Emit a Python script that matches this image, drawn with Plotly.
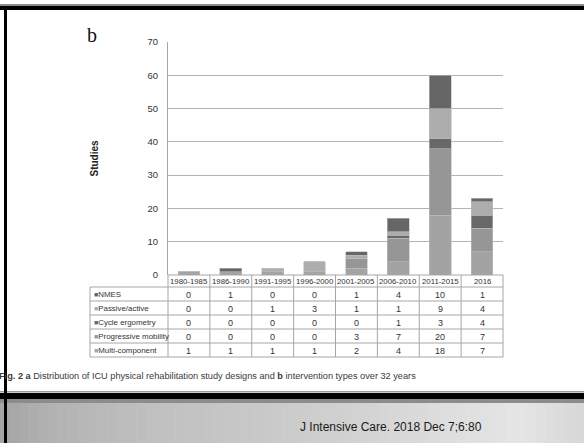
import plotly.graph_objects as go

# ---------------- data ----------------
categories = ["1980-1985", "1986-1990", "1991-1995", "1996-2000",
              "2001-2005", "2006-2010", "2011-2015", "2016"]
nmes = [0, 1, 0, 0, 1, 4, 10, 1]
passive_active = [0, 0, 1, 3, 1, 1, 9, 4]
cycle_ergometry = [0, 0, 0, 0, 0, 1, 3, 4]
progressive_mobility = [0, 0, 0, 0, 3, 7, 20, 7]
multi_component = [1, 1, 1, 1, 2, 4, 18, 7]
y_ticks = [0, 10, 20, 30, 40, 50, 60, 70]

# table rows (top to bottom as in picture)
row_names = ["NMES", "Passive/active", "Cycle ergometry", "Progressive mobility", "Multi-component"]
row_values = [nmes, passive_active, cycle_ergometry, progressive_mobility, multi_component]
row_colors = ["#666666", "#adadad", "#686868", "#969696", "#a3a3a3"]

caption = ("<b>Fig. 2 a</b> Distribution of ICU physical rehabilitation study designs and "
           "<b>b</b> intervention types over 32 years")
citation = "J Intensive Care. 2018 Dec 7;6:80"

# ---------------- layout geometry (pixels) ----------------
W, H = 584, 443
PL, PR, PT, PB = 168, 503, 42, 275
PW, PH = PR - PL, PB - PT

SANS = "Liberation Sans, Arial, sans-serif"


def px(x):
    return (x - PL) / PW


def py(y):
    return (PB - y) / PH


fig = go.Figure()

# stacked bars, bottom to top
for name, vals, col in [("Multi-component", multi_component, row_colors[4]),
                        ("Progressive mobility", progressive_mobility, row_colors[3]),
                        ("Cycle ergometry", cycle_ergometry, row_colors[2]),
                        ("Passive/active", passive_active, row_colors[1]),
                        ("NMES", nmes, row_colors[0])]:
    fig.add_trace(go.Bar(x=categories, y=vals, name=name,
                         marker=dict(color=col, line=dict(color="#bdbdbd", width=0.6)),
                         width=0.52, showlegend=False, hoverinfo="skip"))

shapes = []
annotations = []

# --- slide decoration ---
shapes.append(dict(type="rect", xref="paper", yref="paper", x0=px(0), x1=px(W),
                   y0=py(4), y1=py(6), fillcolor="#8a8a8a", line=dict(width=0), layer="below"))
shapes.append(dict(type="rect", xref="paper", yref="paper", x0=px(0), x1=px(W),
                   y0=py(6), y1=py(10), fillcolor="#000000", line=dict(width=0), layer="below"))
shapes.append(dict(type="rect", xref="paper", yref="paper", x0=px(0), x1=px(W),
                   y0=py(391), y1=py(392.5), fillcolor="#9a9a9a", line=dict(width=0), layer="below"))
shapes.append(dict(type="rect", xref="paper", yref="paper", x0=px(0), x1=px(W),
                   y0=py(393), y1=py(399), fillcolor="#000000", line=dict(width=0), layer="below"))
shapes.append(dict(type="rect", xref="paper", yref="paper", x0=px(0), x1=px(W),
                   y0=py(399), y1=py(403), fillcolor="#8c8c8c", line=dict(width=0), layer="below"))
# gradient band
stops = [(0, 165), (60, 180), (150, 192), (250, 200), (350, 210), (450, 222), (520, 230), (584, 215)]
N = 60
for i in range(N):
    x0 = W * i / N
    x1 = W * (i + 1) / N + 0.5
    xm = (x0 + x1) / 2
    g = stops[-1][1]
    for j in range(len(stops) - 1):
        if stops[j][0] <= xm <= stops[j + 1][0]:
            t = (xm - stops[j][0]) / (stops[j + 1][0] - stops[j][0])
            g = int(stops[j][1] + t * (stops[j + 1][1] - stops[j][1]))
            break
    shapes.append(dict(type="rect", xref="paper", yref="paper", x0=px(x0), x1=px(x1),
                       y0=py(403), y1=py(H), fillcolor=f"rgb({g},{g},{g})",
                       line=dict(width=0), layer="below"))
# left black border
shapes.append(dict(type="rect", xref="paper", yref="paper", x0=px(4), x1=px(7),
                   y0=py(6), y1=py(H), fillcolor="#000000", line=dict(width=0), layer="above"))

# --- table grid ---
LC = "#a6a6a6"
cw = PW / len(categories)
row_tops = [287, 301, 315, 329, 343, 357]
TL = 90
for yy in row_tops:
    shapes.append(dict(type="line", xref="paper", yref="paper", x0=px(TL), x1=px(PR),
                       y0=py(yy), y1=py(yy), line=dict(color=LC, width=1)))
shapes.append(dict(type="line", xref="paper", yref="paper", x0=px(PL), x1=px(PR),
                   y0=py(PB), y1=py(PB), line=dict(color=LC, width=1)))
for i in range(len(categories) + 1):
    xx = PL + cw * i
    shapes.append(dict(type="line", xref="paper", yref="paper", x0=px(xx), x1=px(xx),
                       y0=py(PB), y1=py(row_tops[-1]), line=dict(color=LC, width=1)))
shapes.append(dict(type="line", xref="paper", yref="paper", x0=px(TL), x1=px(TL),
                   y0=py(row_tops[0]), y1=py(row_tops[-1]), line=dict(color=LC, width=1)))

HFONT = dict(family=SANS, size=7.8, color="#333333")
NFONT = dict(family=SANS, size=9, color="#333333")
# header labels (x = category position on the x axis)
for i, c in enumerate(categories):
    annotations.append(dict(x=i, xref="x", y=py(281.5), yref="paper", text=c, showarrow=False,
                            font=HFONT, xanchor="center", yanchor="middle"))
# rows
for r, (nm, vals, col) in enumerate(zip(row_names, row_values, row_colors)):
    yc = (row_tops[r] + row_tops[r + 1]) / 2 + 0.5
    annotations.append(dict(x=px(TL + 2), xref="paper", y=py(yc), yref="paper",
                            text=f"<span style='color:{col};font-size:7px'>■</span>{nm}",
                            showarrow=False, xanchor="left", yanchor="middle",
                            font=dict(family=SANS, size=7.9, color="#333333")))
    for i, v in enumerate(vals):
        annotations.append(dict(x=i, xref="x", y=py(yc), yref="paper", text=str(v),
                                showarrow=False, xanchor="center", yanchor="middle", font=NFONT))

# "b" label
annotations.append(dict(x=px(92), xref="paper", y=py(35), yref="paper", text="b", showarrow=False,
                        font=dict(family="Liberation Serif, serif", size=20, color="#111111"),
                        xanchor="center", yanchor="middle"))
# axis title
annotations.append(dict(x=px(94), xref="paper", y=0.5, yref="paper", text="<b>Studies</b>",
                        showarrow=False, textangle=-90,
                        font=dict(family=SANS, size=10, color="#222222"),
                        xanchor="center", yanchor="middle"))
# caption
annotations.append(dict(x=px(-3), xref="paper", y=py(376), yref="paper", text=caption,
                        showarrow=False, xanchor="left", yanchor="middle",
                        font=dict(family=SANS, size=9.2, color="#3a3a3a")))
# citation
annotations.append(dict(x=px(298), xref="paper", y=py(427), yref="paper", text=citation,
                        showarrow=False, xanchor="left", yanchor="middle",
                        font=dict(family=SANS, size=12, color="#1a1a1a")))

fig.update_layout(
    width=W, height=H,
    margin=dict(l=PL, r=W - PR, t=PT, b=H - PB, pad=0),
    paper_bgcolor="white", plot_bgcolor="white",
    barmode="stack", bargap=0.48,
    shapes=shapes, annotations=annotations,
    xaxis=dict(categoryorder="array", categoryarray=categories, range=[-0.5, len(categories) - 0.5],
               showticklabels=False, showgrid=False, zeroline=False, showline=False, ticks=""),
    yaxis=dict(range=[0, 70], tickvals=y_ticks, showgrid=True, gridcolor="#b4b4b4", gridwidth=1.3,
               zeroline=False, showline=True, linecolor="#a6a6a6", linewidth=1, ticks="",
               ticklabelstandoff=7,
               tickfont=dict(family=SANS, size=9.5, color="#333333")),
)

fig.write_html("out.html", config={"displayModeBar": False},
               post_script="document.body.style.margin='0';document.body.style.overflow='hidden';")
